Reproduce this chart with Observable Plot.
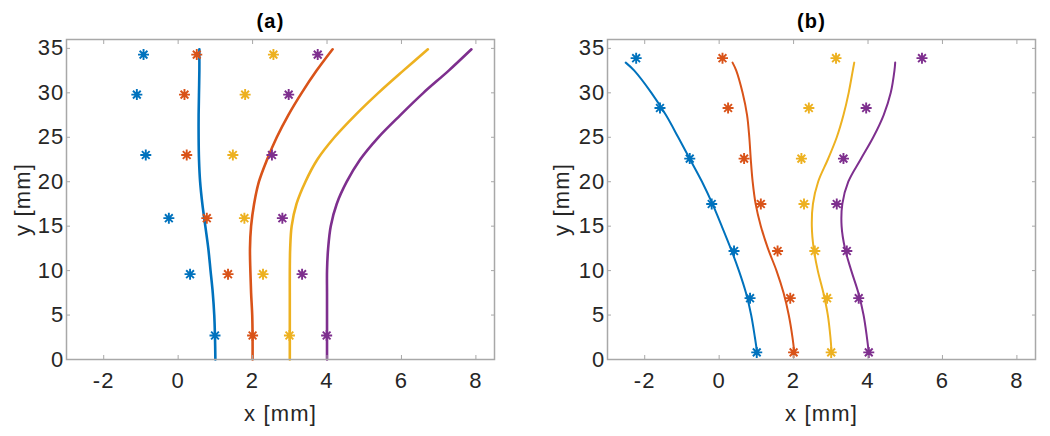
<!DOCTYPE html>
<html>
<head>
<meta charset="utf-8">
<script src="https://cdn.jsdelivr.net/npm/d3@7"></script>
<script src="https://cdn.jsdelivr.net/npm/@observablehq/plot@0.6"></script>
<style>
  body { margin: 0; background: #fff; }
  #wrap { display: flex; width: 1050px; height: 436px; }
</style>
</head>
<body>
<div id="wrap"></div>
<script>
// ---------- data ----------
const seriesNames = ["s1", "s2", "s3", "s4"];
const seriesColors = ["#0072BD", "#D95319", "#EDB120", "#7E2F8E"];
const xTicks = [-2, 0, 2, 4, 6, 8];
const yTicks = [0, 5, 10, 15, 20, 25, 30, 35];

// panel (a) measured points
const aPointY = [34.3, 29.8, 23.0, 15.9, 9.6, 2.7];
const aPointX1 = [-0.93, -1.11, -0.87, -0.25, 0.32, 0.99];
const aPointX2 = [0.50, 0.17, 0.23, 0.77, 1.34, 2.00];
const aPointX3 = [2.56, 1.80, 1.47, 1.78, 2.28, 2.99];
const aPointX4 = [3.75, 2.97, 2.52, 2.80, 3.33, 3.99];
// panel (a) curves
const aLineY = [0, 2.5, 5, 7.5, 10, 12.5, 15, 17.5, 20, 22.5, 25, 27.5, 30, 32.5, 34.9];
const aLineX1 = [1.00, 0.99, 0.97, 0.93, 0.87, 0.81, 0.73, 0.65, 0.59, 0.56, 0.55, 0.55, 0.56, 0.57, 0.57];
const aLineX2 = [2.00, 2.00, 1.99, 1.96, 1.94, 1.93, 1.96, 2.04, 2.17, 2.39, 2.65, 2.96, 3.32, 3.72, 4.15];
const aLineX3 = [3.00, 3.00, 3.00, 3.00, 3.00, 3.01, 3.05, 3.18, 3.42, 3.74, 4.20, 4.76, 5.38, 6.05, 6.71];
const aLineX4 = [4.00, 4.00, 4.00, 4.00, 4.00, 4.03, 4.10, 4.26, 4.53, 4.89, 5.38, 5.97, 6.59, 7.27, 7.88];

// panel (b) measured points
const bPointY = [33.9, 28.3, 22.6, 17.5, 12.2, 6.9, 0.8];
const bPointX1 = [-2.23, -1.59, -0.79, -0.20, 0.40, 0.83, 1.01];
const bPointX2 = [0.09, 0.24, 0.67, 1.12, 1.57, 1.91, 2.00];
const bPointX3 = [3.14, 2.41, 2.21, 2.28, 2.57, 2.90, 3.01];
const bPointX4 = [5.45, 3.95, 3.34, 3.16, 3.43, 3.75, 4.02];
// panel (b) curves
const bLineY = [0.8, 2.5, 5, 7.5, 10, 12.5, 15, 17.5, 20, 22.5, 25, 27.5, 30, 32.5, 33.4];
const bLineX1 = [1.02, 0.96, 0.86, 0.72, 0.53, 0.31, 0.07, -0.18, -0.46, -0.78, -1.10, -1.43, -1.82, -2.28, -2.51];
const bLineX2 = [2.02, 1.97, 1.87, 1.73, 1.54, 1.31, 1.12, 0.98, 0.90, 0.85, 0.81, 0.75, 0.63, 0.46, 0.36];
const bLineX3 = [3.02, 2.99, 2.92, 2.80, 2.65, 2.54, 2.49, 2.52, 2.66, 2.92, 3.16, 3.34, 3.48, 3.59, 3.63];
const bLineX4 = [4.02, 3.97, 3.88, 3.74, 3.55, 3.38, 3.29, 3.31, 3.47, 3.80, 4.14, 4.42, 4.61, 4.71, 4.73];

// ---------- helpers ----------
function longTable(ys, xsList) {
  const rows = [];
  xsList.forEach((xs, si) => xs.forEach((x, i) => rows.push({series: seriesNames[si], x, y: ys[i]})));
  return rows;
}

// 8-spoke asterisk like MATLAB "*"
const star8 = {
  draw(context, size) {
    const r = Math.sqrt(size / Math.PI);
    const d = r * Math.SQRT1_2;
    context.moveTo(-r, 0); context.lineTo(r, 0);
    context.moveTo(0, -r); context.lineTo(0, r);
    context.moveTo(-d, -d); context.lineTo(d, d);
    context.moveTo(-d, d); context.lineTo(d, -d);
  }
};

const FONT = "'Liberation Sans', Arial, sans-serif";
const TEXT = "#262626";
const AXC = "#a8a8a8";
const fmt = d => String(d);

function panel({title, points, lines, marginLeft, marginRight, ylabelDx, lineWidth}) {
  return Plot.plot({
    width: 525,
    height: 436,
    marginLeft, marginRight,
    marginTop: 39,
    marginBottom: 77,
    style: {fontFamily: FONT, fontSize: "22px", color: TEXT, background: "#fff", overflow: "visible", letterSpacing: "1.2px"},
    x: {domain: [-3, 8.5]},
    y: {domain: [0, 36]},
    color: {domain: seriesNames, range: seriesColors},
    marks: [
      Plot.line(lines, {x: "x", y: "y", z: "series", stroke: "series", strokeWidth: lineWidth, curve: "catmull-rom"}),
      Plot.dot(points, {x: "x", y: "y", stroke: "series", symbol: star8, r: 5.5, strokeWidth: 1.9}),
      Plot.frame({stroke: AXC, strokeWidth: 1.5}),
      Plot.axisX(xTicks, {anchor: "bottom", tickSize: -4, tickPadding: 17, tickFormat: fmt, stroke: AXC, fill: TEXT, fontSize: 22, label: null}),
      Plot.axisX(xTicks, {anchor: "top", tickSize: -4, tickFormat: () => "", stroke: AXC, label: null}),
      Plot.axisY(yTicks, {anchor: "left", tickSize: -4, tickPadding: 6, tickFormat: fmt, stroke: AXC, fill: TEXT, fontSize: 22, label: null}),
      Plot.axisY(yTicks, {anchor: "right", tickSize: -4, tickFormat: () => "", stroke: AXC, label: null}),
      Plot.text([title], {frameAnchor: "top", dy: -18, dx: -10, lineAnchor: "middle", textAnchor: "middle", fontWeight: "bold", fontSize: 20, fill: "#000"}),
      Plot.text(["x [mm]"], {frameAnchor: "bottom", dy: 54, lineAnchor: "middle", textAnchor: "middle", fontSize: 22, fill: TEXT}),
      Plot.text(["y [mm]"], {frameAnchor: "left", dx: ylabelDx, lineAnchor: "middle", textAnchor: "middle", rotate: -90, fontSize: 22, fill: TEXT})
    ]
  });
}

const wrap = document.getElementById("wrap");
wrap.append(panel({
  title: "(a)",
  points: longTable(aPointY, [aPointX1, aPointX2, aPointX3, aPointX4]),
  lines: longTable(aLineY, [aLineX1, aLineX2, aLineX3, aLineX4]),
  marginLeft: 66, marginRight: 31, ylabelDx: -44, lineWidth: 2.6
}));
wrap.append(panel({
  title: "(b)",
  points: longTable(bPointY, [bPointX1, bPointX2, bPointX3, bPointX4]),
  lines: longTable(bLineY, [bLineX1, bLineX2, bLineX3, bLineX4]),
  marginLeft: 82, marginRight: 15, ylabelDx: -46, lineWidth: 2
}));
</script>
</body>
</html>
